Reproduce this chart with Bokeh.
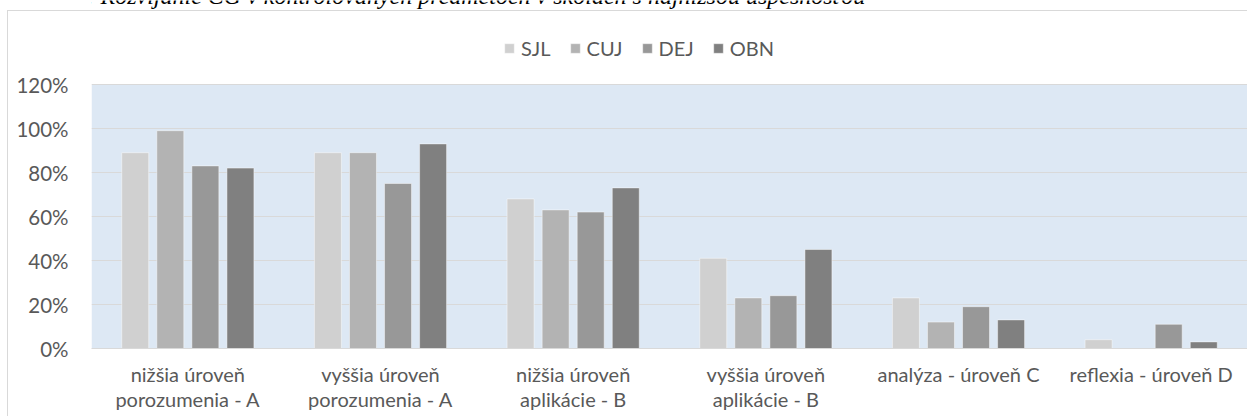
from bokeh.plotting import figure
from bokeh.models import (ColumnDataSource, FactorRange, Range1d, Legend, LegendItem, Label,
                          FixedTicker, PrintfTickFormatter, BoxAnnotation, InlineStyleSheet)
from bokeh.transform import dodge
from bokeh.embed import file_html
from bokeh.resources import INLINE

caption = "Graf č. 7: Rozvíjanie ČG v kontrolovaných predmetoch v školách s najnižšou úspešnosťou"
categories = ["nižšia úroveň\nporozumenia - A", "vyššia úroveň\nporozumenia - A",
              "nižšia úroveň\naplikácie - B", "vyššia úroveň\naplikácie - B",
              "analýza - úroveň C", "reflexia - úroveň D"]
series = ["SJL", "CUJ", "DEJ", "OBN"]
SJL = [89, 89, 68, 41, 23, 4]
CUJ = [99, 89, 63, 23, 12, 0]
DEJ = [83, 75, 62, 24, 19, 11]
OBN = [82, 93, 73, 45, 13, 3]
y_ticks = [0, 20, 40, 60, 80, 100, 120]
y_max = 120

colors = ["#d0d0d0", "#b3b3b3", "#989898", "#808080"]
offsets = [-0.273, -0.091, 0.091, 0.273]
FONT = "Lato"
TXT = "#595959"

# layout (pixels)
W, H = 1247, 416
FRAME_TOP, AREA_TOP, FRAME_BOTTOM = 0, 84, 348
px_per_unit = (FRAME_BOTTOM - AREA_TOP) / y_max
y_end = y_max * (FRAME_BOTTOM - FRAME_TOP) / (FRAME_BOTTOM - AREA_TOP)

src = ColumnDataSource(dict(cat=categories, SJL=SJL, CUJ=CUJ, DEJ=DEJ, OBN=OBN))

p = figure(x_range=FactorRange(*categories), y_range=Range1d(0, y_end),
           width=W, height=H, output_backend="svg", toolbar_location=None,
           min_border_left=91, min_border_right=0, min_border_top=FRAME_TOP,
           min_border_bottom=H - FRAME_BOTTOM)
p.background_fill_color = "white"
p.border_fill_color = "white"
p.outline_line_color = None

area = BoxAnnotation(bottom=0, top=y_max, fill_color="#dde8f4", fill_alpha=1,
                     line_color=None, level="image")
p.add_layout(area)

renderers = []
for name, col, off in zip(series, colors, offsets):
    r = p.vbar(x=dodge("cat", off, range=p.x_range), top=name, width=0.14, source=src,
               fill_color=col, line_color="white", line_alpha=0.45, line_width=1)
    renderers.append(r)

p.xgrid.grid_line_color = None
p.ygrid.ticker = FixedTicker(ticks=y_ticks)
p.ygrid.grid_line_color = "#d9d9d9"
p.ygrid.grid_line_width = 1

p.yaxis.ticker = FixedTicker(ticks=y_ticks)
p.yaxis.formatter = PrintfTickFormatter(format="%d%%")
p.yaxis.axis_line_color = None
p.yaxis.major_tick_line_color = None
p.yaxis.minor_tick_line_color = None
p.yaxis.major_tick_out = 0
p.yaxis.major_tick_in = 0
p.yaxis.major_label_standoff = 23
p.yaxis.major_label_text_font = FONT
p.yaxis.major_label_text_font_size = "20.5px"
p.yaxis.major_label_text_color = TXT

p.xaxis.axis_line_color = "#d9d9d9"
p.xaxis.major_tick_line_color = None
p.xaxis.minor_tick_line_color = None
p.xaxis.major_tick_out = 0
p.xaxis.major_tick_in = 0
p.xaxis.major_label_standoff = 13
p.xaxis.major_label_text_line_height = 1.05
p.xaxis.major_label_text_font = FONT
p.xaxis.major_label_text_font_size = "20px"
p.xaxis.major_label_text_color = TXT

legend = Legend(items=[LegendItem(label=n, renderers=[r]) for n, r in zip(series, renderers)],
                orientation="horizontal", location=(412, 288),
                glyph_width=12, glyph_height=12, label_standoff=6, spacing=18,
                padding=0, margin=0, border_line_color=None, background_fill_alpha=0,
                label_text_font=FONT, label_text_font_size="20px", label_text_color=TXT)
p.add_layout(legend)

# caption above the chart (cut off at the top edge, as in the reference)
cap = Label(x=0, y=y_end + 5 / px_per_unit, x_offset=-91, text=caption,
            text_font="Liberation Serif", text_font_style="italic", text_font_size="24px",
            text_color="black", text_baseline="alphabetic", text_align="left")
p.add_layout(cap)

p.stylesheets = [InlineStyleSheet(css="""
:host::after {
  content: "";
  position: absolute;
  left: 7px; top: 10px; right: 0px; bottom: 0px;
  border-top: 1.5px solid #d9d9d9;
  border-left: 1.5px solid #d9d9d9;
  pointer-events: none;
  z-index: 10;
}
""")]

open("out.html", "w").write(file_html(p, INLINE))
